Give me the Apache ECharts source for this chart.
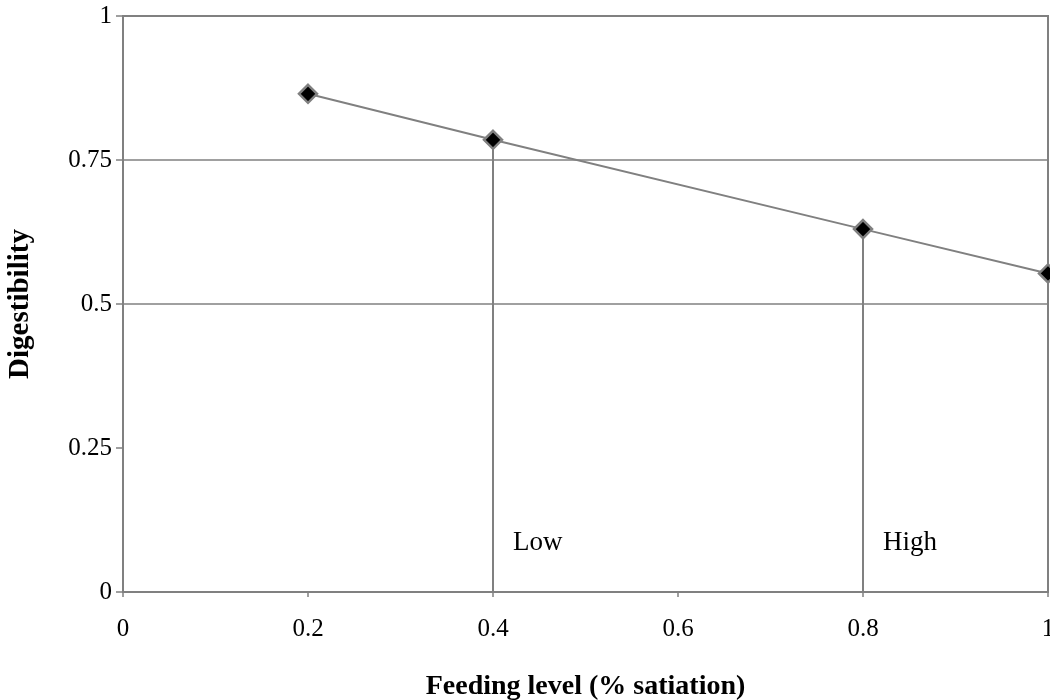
<!DOCTYPE html>
<html>
<head>
<meta charset="utf-8">
<script src="https://cdn.jsdelivr.net/npm/echarts@6/dist/echarts.min.js"></script>
<style>
  html, body { margin: 0; padding: 0; background: #fff; }
  #chart { width: 1050px; height: 700px; }
</style>
</head>
<body>
<div id="chart"></div>
<script>
// Digestibility as a function of feeding level
const feedingLevel = [0.2, 0.4, 0.8, 1.0];
const digestibility = [0.865, 0.785, 0.63, 0.553];

// Reference feeding levels marked with drop lines
const levelNames = ['Low', 'High'];
const levelX = [0.4, 0.8];
const levelLabelY = 0.085;

// Horizontal reference lines
const gridValues = [0.5, 0.75];

const xTicks = [0, 0.2, 0.4, 0.6, 0.8, 1];
const yTicks = [0, 0.25, 0.5, 0.75, 1];

const FONT = '"Liberation Serif", "DejaVu Serif", serif';
const GREY = '#808080';

const curve = feedingLevel.map((x, i) => [x, digestibility[i]]);

const dropSeries = levelX.map((x, i) => {
  const top = digestibility[feedingLevel.indexOf(x)];
  return {
    type: 'line',
    name: levelNames[i],
    data: [[x, 0], [x, top]],
    symbol: 'none',
    lineStyle: { color: GREY, width: 2 },
    silent: true,
    z: 1
  };
});

const chart = echarts.init(document.getElementById('chart'), null, { renderer: 'canvas' });

chart.setOption({
  animation: false,
  backgroundColor: '#fff',
  grid: {
    left: 123, right: 2, top: 16, bottom: 108,
    outerBoundsMode: 'none',
    containLabel: false,
    show: true, borderColor: GREY, borderWidth: 2, backgroundColor: 'transparent'
  },
  xAxis: {
    type: 'value',
    min: 0, max: 1, interval: 0.2,
    name: 'Feeding level (% satiation)',
    nameLocation: 'middle',
    nameGap: 81,
    nameTextStyle: { fontFamily: FONT, fontSize: 28, fontWeight: 'bold', color: '#000' },
    axisLine: { show: true, lineStyle: { color: GREY, width: 2 } },
    axisTick: { show: true, length: 5, lineStyle: { color: GREY, width: 1.5 } },
    axisLabel: {
      margin: 25, fontFamily: FONT, fontSize: 25, color: '#000',
      formatter: v => {
        const t = xTicks.find(k => Math.abs(k - v) < 1e-9);
        return t === undefined ? '' : String(t);
      }
    },
    splitLine: { show: false }
  },
  yAxis: {
    type: 'value',
    min: 0, max: 1, interval: 0.25,
    name: 'Digestibility',
    nameLocation: 'middle',
    nameGap: 88,
    nameTextStyle: { fontFamily: FONT, fontSize: 29, fontWeight: 'bold', color: '#000' },
    axisLine: { show: true, lineStyle: { color: GREY, width: 2 } },
    axisTick: { show: true, length: 7, lineStyle: { color: GREY, width: 1.5 } },
    axisLabel: {
      margin: 11, fontFamily: FONT, fontSize: 25, color: '#000',
      formatter: v => {
        const t = yTicks.find(k => Math.abs(k - v) < 1e-9);
        return t === undefined ? '' : String(t);
      }
    },
    splitLine: { show: false }
  },
  series: [
    {
      type: 'line',
      name: 'reference lines',
      data: [],
      silent: true,
      markLine: {
        silent: true,
        symbol: 'none',
        label: { show: false },
        lineStyle: { color: GREY, width: 1.5, type: 'solid' },
        data: gridValues.map(v => ({ yAxis: v }))
      }
    },
    ...dropSeries,
    {
      type: 'scatter',
      name: 'level labels',
      data: levelX.map((x, i) => ({ value: [x, levelLabelY], name: levelNames[i] })),
      symbolSize: 0,
      silent: true,
      itemStyle: { color: '#000', opacity: 1 },
      label: {
        show: true,
        position: 'right',
        distance: 20,
        formatter: p => p.name,
        fontFamily: FONT, fontSize: 27, color: '#000',
        textBorderWidth: 0, opacity: 1
      }
    },
    {
      type: 'line',
      name: 'Digestibility',
      data: curve,
      symbol: 'diamond',
      symbolSize: 18,
      lineStyle: { color: GREY, width: 2 },
      itemStyle: { color: '#000', borderColor: GREY, borderWidth: 2.5 },
      z: 5
    }
  ]
});
</script>
</body>
</html>
